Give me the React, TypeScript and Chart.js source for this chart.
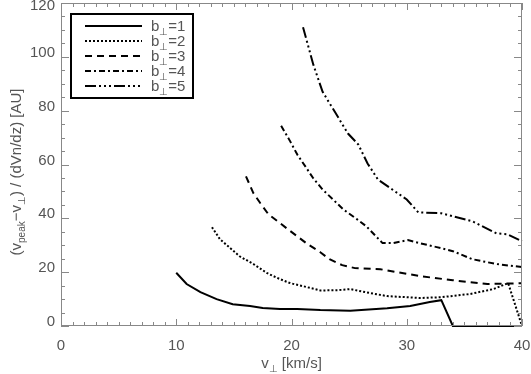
import { useEffect, useRef } from "react";
import { Chart, registerables } from "chart.js";
Chart.register(...registerables);

const seriesLabels = ["1", "2", "3", "4", "5"];
const xTicks = [0, 10, 20, 30, 40];
const yTicks = [0, 20, 40, 60, 80, 100, 120];

const b1V = [10, 10.9, 12.1, 13.5, 14.9, 16.4, 17.5, 19, 20.5, 22.5, 25.1, 28.3, 30.3, 32, 33, 34, 40];
const b1Y = [19.8, 15.6, 12.6, 10.0, 8.1, 7.4, 6.7, 6.3, 6.3, 5.9, 5.7, 6.6, 7.4, 8.9, 9.6, 0, 0];
const b2V = [13.1, 13.8, 14.7, 15.5, 16.7, 17.9, 19, 19.9, 21, 22.5, 24, 25.1, 26.5, 28.3, 31.2, 33, 35.5, 37.5, 38.8, 40];
const b2Y = [36.7, 32.2, 28.9, 25.9, 23, 19.6, 17.4, 15.9, 14.8, 13.2, 13.3, 13.7, 12.5, 11.1, 10.4, 10.7, 11.9, 13.7, 15.9, 0];
const b3V = [16.05, 16.7, 17.3, 18, 18.8, 19.7, 20.6, 21.4, 22.5, 23.3, 24.4, 25.5, 27.7, 31.2, 34, 37, 40];
const b3Y = [55.6, 49.3, 45.6, 41.5, 38.9, 35.9, 33, 30.4, 27.4, 24.8, 22.6, 21.5, 21.1, 18.5, 17, 15.6, 15.9];
const b4V = [19.1, 19.9, 20.5, 21.2, 21.9, 22.7, 23.6, 24.5, 25.7, 26.5, 27.9, 28.8, 30.1, 31.2, 32.6, 34, 35.7, 37.8, 40];
const b4Y = [74.4, 68.5, 63.7, 59.3, 54.8, 50.7, 47, 43.3, 39.6, 37, 30.8, 30.8, 31.9, 30.7, 29.3, 27.8, 24.8, 23, 21.9];
const b5V = [21, 21.9, 22.7, 23.6, 24.9, 25.8, 26.6, 27.5, 30, 31, 33, 35.7, 37.8, 38.7, 40];
const b5Y = [111, 97, 87, 80.7, 71.5, 67.4, 60.4, 54.4, 47, 42.2, 41.9, 38.9, 34.4, 34.1, 31.5];

const seriesV = [b1V, b2V, b3V, b4V, b5V];
const seriesY = [b1Y, b2Y, b3Y, b4Y, b5Y];
const dashes: number[][] = [[], [2, 2], [7, 5], [6, 3, 2, 3], [11, 3, 2, 3, 2, 3, 2, 3]];

const FONT = '"Liberation Sans", Arial, sans-serif';
const TEXT = "#555";

type Seg = { t: string; sub?: boolean };

function richWidth(ctx: CanvasRenderingContext2D, segs: Seg[], size: number, subSize: number) {
  let w = 0;
  for (const s of segs) {
    ctx.font = `${s.sub ? subSize : size}px ${FONT}`;
    w += ctx.measureText(s.t).width;
  }
  return w;
}

function drawRich(ctx: CanvasRenderingContext2D, segs: Seg[], x: number, baseline: number, size: number, subSize: number, align: "center" | "left") {
  const w = richWidth(ctx, segs, size, subSize);
  let cx = align === "center" ? x - w / 2 : x;
  ctx.textAlign = "left";
  ctx.textBaseline = "alphabetic";
  for (const s of segs) {
    ctx.font = `${s.sub ? subSize : size}px ${FONT}`;
    ctx.fillText(s.t, cx, baseline + (s.sub ? size * 0.28 : 0));
    cx += ctx.measureText(s.t).width;
  }
}

const framePlugin = {
  id: "frame",
  afterDatasetsDraw(chart: any) {
    const { ctx, chartArea: a, scales } = chart;
    const xs = scales.x;
    const ys = scales.y;
    ctx.save();
    ctx.setLineDash([]);
    ctx.strokeStyle = "#888";
    ctx.lineWidth = 1;
    ctx.strokeRect(a.left + 0.5, a.top + 0.5, a.right - a.left - 1, a.bottom - a.top - 1);
    ctx.beginPath();
    for (let v = xs.min; v <= xs.max; v += 1) {
      const px = Math.round(xs.getPixelForValue(v)) + 0.5;
      const len = v % 10 === 0 ? 7 : 4;
      ctx.moveTo(px, a.bottom);
      ctx.lineTo(px, a.bottom - len);
      ctx.moveTo(px, a.top);
      ctx.lineTo(px, a.top + len);
    }
    for (let v = ys.min; v <= ys.max; v += 5) {
      const py = Math.round(ys.getPixelForValue(v)) + 0.5;
      const len = v % 20 === 0 ? 8 : 4;
      ctx.moveTo(a.left, py);
      ctx.lineTo(a.left + len, py);
      ctx.moveTo(a.right, py);
      ctx.lineTo(a.right - len, py);
    }
    ctx.stroke();

    // y tick labels (offset upward like the original, clamped at the top)
    ctx.fillStyle = TEXT;
    ctx.font = `15px ${FONT}`;
    ctx.textAlign = "right";
    ctx.textBaseline = "middle";
    ys.ticks.forEach((t: any) => {
      const py = Math.max(6, ys.getPixelForValue(t.value) - 4);
      ctx.fillText(String(t.value), a.left - 6, py);
    });

    // legend
    ctx.strokeStyle = "#000";
    ctx.lineWidth = 2;
    ctx.strokeRect(71, 14, 122, 84);
    chart.data.datasets.forEach((ds: any, i: number) => {
      const yy = 26 + i * 15;
      ctx.beginPath();
      ctx.setLineDash(ds.borderDash || []);
      ctx.lineWidth = 2;
      ctx.strokeStyle = "#000";
      ctx.moveTo(85, yy);
      ctx.lineTo(142, yy);
      ctx.stroke();
      ctx.setLineDash([]);
      ctx.fillStyle = TEXT;
      drawRich(ctx, [{ t: "b" }, { t: "⊥", sub: true }, { t: "=" + seriesLabels[i] }], 151, yy + 5, 15, 10, "left");
    });

    // axis titles
    ctx.fillStyle = TEXT;
    drawRich(ctx, [{ t: "v" }, { t: "⊥", sub: true }, { t: " [km/s]" }], (a.left + a.right) / 2, 368, 15, 10, "center");
    ctx.translate(16, 172);
    ctx.rotate(-Math.PI / 2);
    drawRich(
      ctx,
      [{ t: "(v" }, { t: "peak", sub: true }, { t: "−v" }, { t: "⊥", sub: true }, { t: ") / (dVn/dz) [AU]" }],
      0,
      5,
      15,
      10,
      "center"
    );
    ctx.restore();
  },
};

export default function App() {
  const ref = useRef<HTMLCanvasElement>(null);
  useEffect(() => {
    document.body.style.margin = "0";
    const datasets = seriesV.map((vs, i) => ({
      label: "b⊥=" + seriesLabels[i],
      data: vs.map((v, j) => ({ x: v, y: seriesY[i][j] })),
      borderColor: "#000",
      borderWidth: 2,
      borderDash: dashes[i],
      pointRadius: 0,
      tension: 0,
      fill: false,
      clip: 3,
    }));
    const chart = new Chart(ref.current!, {
      type: "line",
      data: { datasets },
      options: {
        animation: false,
        responsive: false,
        layout: { padding: { top: 3, right: 9, left: 0, bottom: 0 } },
        plugins: { legend: { display: false }, tooltip: { enabled: false } },
        scales: {
          x: {
            type: "linear",
            min: 0,
            max: 40,
            afterFit: (s: any) => {
              s.height = 48;
              s.paddingLeft = 0;
              s.paddingRight = 0;
            },
            afterBuildTicks: (s: any) => {
              s.ticks = xTicks.map((v) => ({ value: v }));
            },
            grid: { display: false, drawTicks: false },
            border: { display: false },
            ticks: { color: TEXT, font: { family: FONT, size: 15 }, padding: 11, maxRotation: 0 },
          },
          y: {
            type: "linear",
            min: 0,
            max: 120,
            afterFit: (s: any) => {
              s.width = 61;
              s.paddingTop = 0;
              s.paddingBottom = 0;
            },
            afterBuildTicks: (s: any) => {
              s.ticks = yTicks.map((v) => ({ value: v }));
            },
            grid: { display: false, drawTicks: false },
            border: { display: false },
            ticks: { display: false },
          },
        },
      },
      plugins: [framePlugin],
    });
    return () => chart.destroy();
  }, []);
  return <canvas ref={ref} width={531} height={374} style={{ display: "block" }} />;
}
